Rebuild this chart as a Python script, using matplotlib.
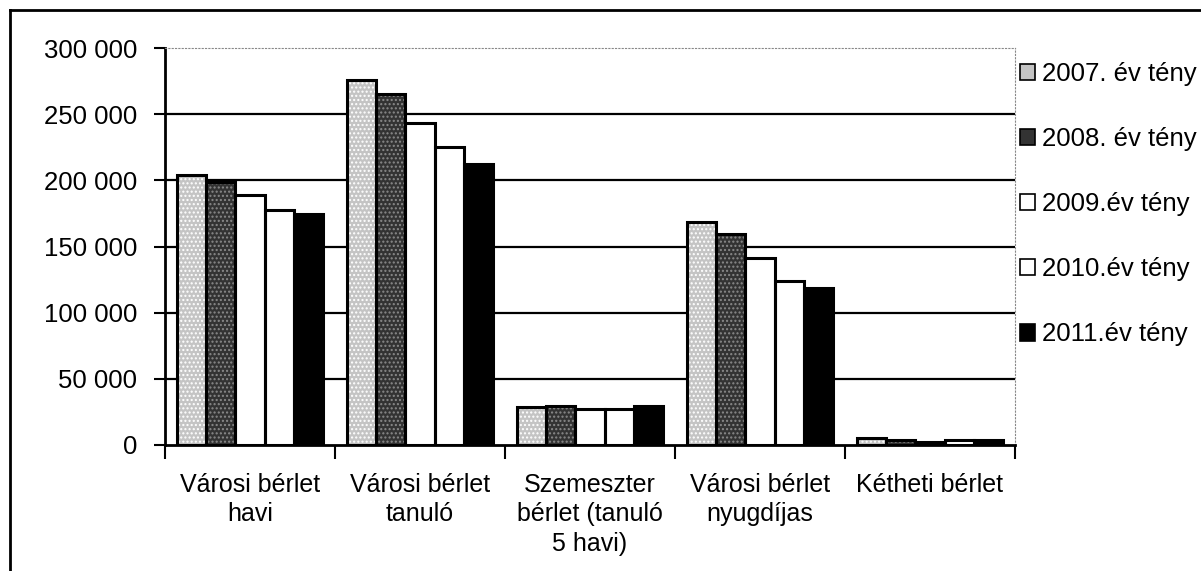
import matplotlib
matplotlib.use("Agg")
import matplotlib.pyplot as plt
import numpy as np
from matplotlib.lines import Line2D
from matplotlib.patches import Patch

plt.rcParams['font.family'] = ['Liberation Sans', 'DejaVu Sans']

categories = ["Városi bérlet\nhavi", "Városi bérlet\ntanuló", "Szemeszter\nbérlet (tanuló\n5 havi)",
              "Városi bérlet\nnyugdíjas", "Kétheti bérlet"]
series = ["2007. év tény", "2008. év tény", "2009.év tény", "2010.év tény", "2011.év tény"]
v2007 = [204000, 275500, 28500, 168500, 5500]
v2008 = [199000, 265500, 29500, 159500, 3500]
v2009 = [189000, 243500, 27000, 141000, 2500]
v2010 = [177500, 225000, 27000, 124000, 4000]
v2011 = [174500, 212000, 29500, 118500, 3500]
yticks = [0, 50000, 100000, 150000, 200000, 250000, 300000]
ytick_labels = ["0", "50 000", "100 000", "150 000", "200 000", "250 000", "300 000"]

values = [v2007, v2008, v2009, v2010, v2011]
faces = ["#c4c4c4", "#333333", "white", "white", "black"]
hatches = ["....", "....", None, None, None]
hatch_cols = ["#ffffff", "#8a8a8a", "white", "white", "black"]

fig = plt.figure(figsize=(12.01, 5.71), dpi=100)
ax = fig.add_axes([165 / 1201, 1 - 445 / 571, 850 / 1201, 397 / 571])

x = np.arange(len(categories))
w = 0.172
for i, vals in enumerate(values):
    pos = x + (i - 2) * w
    # fill with stipple texture, then the black outline on top
    ax.bar(pos, vals, width=w, color=faces[i], edgecolor=hatch_cols[i], hatch=hatches[i],
           linewidth=0, zorder=3)
    ax.bar(pos, vals, width=w, fill=False, edgecolor="black", linewidth=2.2, zorder=4)

ax.set_xlim(-0.5, len(categories) - 0.5)
ax.set_ylim(0, 300000)
ax.set_yticks(yticks)
ax.set_yticklabels(ytick_labels, fontsize=18.5)
ax.set_xticks(x)
ax.set_xticklabels(categories, fontsize=18, linespacing=1.3)
ax.set_xticks(np.arange(-0.5, len(categories)), minor=True)
ax.tick_params(axis='x', which='major', length=0, pad=20)
ax.tick_params(axis='x', which='minor', length=10, width=1.5, direction='out')
ax.tick_params(axis='y', length=8, width=1.5, direction='out', pad=12)

for yv in yticks[1:-1]:
    ax.axhline(yv, color="black", linewidth=1.6, zorder=1)

ax.spines['left'].set_linewidth(2)
ax.spines['bottom'].set_linewidth(2)
ax.spines['top'].set_color("#888888")
ax.spines['top'].set_linestyle((0, (1, 2)))
ax.spines['right'].set_color("#888888")
ax.spines['right'].set_linestyle((0, (1, 2)))

handles = [Patch(facecolor=faces[i], edgecolor="black", linewidth=1.2) for i in range(len(series))]
fig.legend(handles, series, loc='upper left', bbox_to_anchor=(1020 / 1201, 1 - 62 / 571),
           frameon=False, fontsize=18.5, handlelength=0.6, handleheight=0.6,
           handletextpad=0.25, labelspacing=1.6, borderpad=0, borderaxespad=0)

# outer chart frame
fig.add_artist(Line2D([10 / 1201, 1], [1 - 10 / 571] * 2, color="black", linewidth=2))
fig.add_artist(Line2D([10 / 1201] * 2, [0, 1 - 10 / 571], color="black", linewidth=2))

fig.savefig("out.png", dpi=100)
